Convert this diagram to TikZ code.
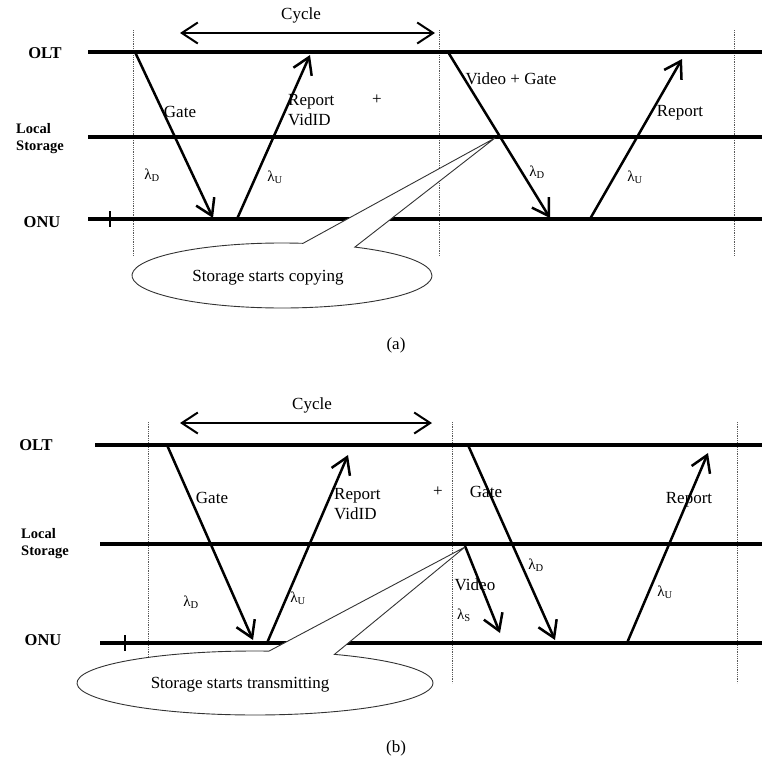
\documentclass[tikz,border=0pt]{standalone}
\usepackage{fontspec}
\setmainfont{Liberation Serif}
\usepackage{tikz}
\usetikzlibrary{arrows.meta,positioning,shapes.callouts}

\begin{document}
\begin{tikzpicture}[
    x=1pt, y=-1pt,
    font=\fontsize{17}{20}\selectfont,
    axis/.style={line width=3.2pt},
    sig/.style={line width=2.5pt, -{Straight Barb[length=16pt,width=20pt]}},
    cyc/.style={line width=2pt, {Straight Barb[length=16pt,width=21pt]}-{Straight Barb[length=16pt,width=21pt]}},
    sep/.style={densely dotted, line width=0.8pt, black!65},
    lab/.style={inner sep=0pt, font=\fontsize{16.5}{18}\selectfont\bfseries, align=left},
    lab2/.style={inner sep=0pt, font=\fontsize{14.5}{17}\selectfont\bfseries, align=left},
    txt/.style={inner sep=0pt, align=left},
    lam/.style={inner sep=0pt, font=\fontsize{15}{17}\selectfont},
    bubble/.style={ellipse callout, draw=black!80, line width=0.9pt, fill=white, inner sep=0pt}
]
\useasboundingbox (0,0) rectangle (762,764);

% ---------------- (a) ----------------
\foreach \xx in {133,439,734} \draw[sep] (\xx,30) -- (\xx,256);
\draw[axis] (88,52) -- (762,52);
\draw[axis] (88,137) -- (762,137);
\draw[axis] (88,219) -- (762,219);
\draw[line width=2pt] (110,211) -- (110,227);

\node[lab] (olta) at (45,53) {OLT};
\node[lab2] (lsa) at (40,138.5) {Local\\Storage};
\node[lab] (onua) at (42,222) {ONU};

\coordinate (a-cl) at (180,33);
\coordinate (a-cr) at (435,33);
\draw[cyc] (a-cl) -- (a-cr);
\node[txt] (a-cyc) at (301,15) {Cycle};

\coordinate (a-g1) at (135,52);  \coordinate (a-g1e) at (213,218);
\coordinate (a-r1) at (237,219); \coordinate (a-r1e) at (310,55);
\coordinate (a-g2) at (448,52);  \coordinate (a-g2e) at (550,218);
\coordinate (a-r2) at (590,219); \coordinate (a-r2e) at (682,59);
\draw[sig] (a-g1) -- (a-g1e);
\draw[sig] (a-r1) -- (a-r1e);
\draw[sig] (a-g2) -- (a-g2e);
\draw[sig] (a-r2) -- (a-r2e);

\node[txt] (a-gate) at (180,112) {Gate};
\node[txt, anchor=west] (a-rep) at (288,110) {Report\\VidID};
\node[txt] (a-plus) at (377,100) {+};
\node[txt] (a-vg) at (511,79) {Video + Gate};
\node[txt] (a-rep2) at (680,113) {Report};
\node[lam] (a-ld1) at (152,175) {λ\textsubscript{D}};
\node[lam] (a-lu1) at (275,177) {λ\textsubscript{U}};
\node[lam] (a-ld2) at (537,172) {λ\textsubscript{D}};
\node[lam] (a-lu2) at (635,177) {λ\textsubscript{U}};

\coordinate (a-tip) at (495,138);
\node[bubble, minimum width=300pt, minimum height=65pt,
      callout absolute pointer={(a-tip)}, callout pointer arc=21] (a-bub) at (282,275.5) {};
\node[txt] (a-bubtxt) at (268,278) {Storage starts copying};

\node[txt] (capa) at (396,345) {(a)};

% ---------------- (b) ----------------
\foreach \xx in {148,452,737} \draw[sep] (\xx,422) -- (\xx,683);
\draw[axis] (95,445) -- (762,445);
\draw[axis] (100,544) -- (762,544);
\draw[axis] (100,643) -- (762,643);
\draw[line width=2pt] (125,635) -- (125,651);

\node[lab] (oltb) at (36,445) {OLT};
\node[lab2] (lsb) at (45,544) {Local\\Storage};
\node[lab] (onub) at (43,640) {ONU};

\coordinate (b-cl) at (180,423);
\coordinate (b-cr) at (432,423);
\draw[cyc] (b-cl) -- (b-cr);
\node[txt] (b-cyc) at (312,405) {Cycle};

\coordinate (b-g1) at (167,445);  \coordinate (b-g1e) at (253,640);
\coordinate (b-r1) at (267,643);  \coordinate (b-r1e) at (348,455);
\coordinate (b-g2) at (468,445);  \coordinate (b-g2e) at (555,640);
\coordinate (b-v)  at (465,546);  \coordinate (b-ve)  at (500,633);
\coordinate (b-r2) at (627,643);  \coordinate (b-r2e) at (708,453);
\draw[sig] (b-g1) -- (b-g1e);
\draw[sig] (b-r1) -- (b-r1e);
\draw[sig] (b-g2) -- (b-g2e);
\draw[sig] (b-v) -- (b-ve);
\draw[sig] (b-r2) -- (b-r2e);

\node[txt] (b-gate) at (212,498) {Gate};
\node[txt, anchor=west] (b-rep) at (334,504) {Report\\VidID};
\node[txt] (b-plus) at (438,492) {+};
\node[txt] (b-gate2) at (486,492) {Gate};
\node[txt] (b-video) at (475,585) {Video};
\node[txt] (b-rep2) at (689,500) {Report};
\node[lam] (b-ld1) at (191,602) {λ\textsubscript{D}};
\node[lam] (b-lu1) at (298,598) {λ\textsubscript{U}};
\node[lam] (b-ld2) at (536,565) {λ\textsubscript{D}};
\node[lam] (b-ls) at (464,615) {λ\textsubscript{S}};
\node[lam] (b-lu2) at (665,592) {λ\textsubscript{U}};

\coordinate (b-tip) at (465,547);
\node[bubble, minimum width=356pt, minimum height=64pt,
      callout absolute pointer={(b-tip)}, callout pointer arc=22] (b-bub) at (255,683) {};
\node[txt] (b-bubtxt) at (240,685) {Storage starts transmitting};

\node[txt] (capb) at (396,748) {(b)};
\end{tikzpicture}
\end{document}
